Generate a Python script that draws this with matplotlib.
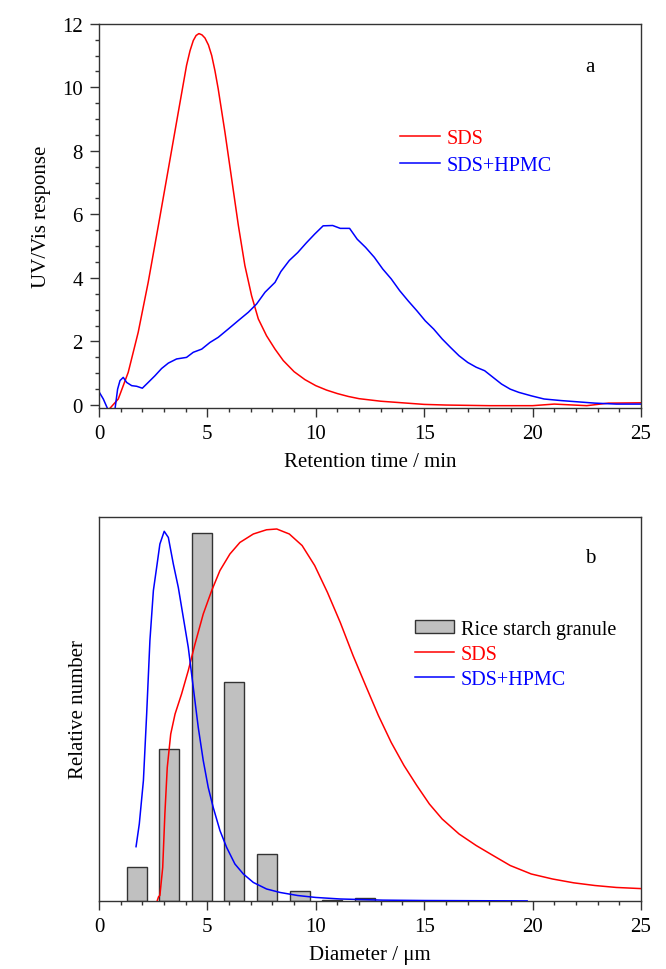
import numpy as np
import matplotlib
matplotlib.use("Agg")
import matplotlib.pyplot as plt

plt.rcParams['font.family'] = ['Liberation Serif', 'DejaVu Serif']

# panel a: SEC traces
t_sds = [0.51, 0.89, 1.35, 1.81, 2.27, 2.74, 3.20, 3.66, 4.04, 4.20, 4.35, 4.48, 4.61,
         4.75, 4.89, 5.05, 5.20, 5.35, 5.50, 5.81, 6.12, 6.43, 6.73, 7.04, 7.35, 7.73,
         8.12, 8.5, 9.0, 9.5, 10.0, 10.5, 11.0, 11.5, 12.0, 13.0, 14.0, 15.0, 16.0,
         18.0, 20.0, 21.0, 22.5, 23.5, 25.0]
uv_sds = [-0.10, 0.19, 1.03, 2.29, 3.86, 5.65, 7.43, 9.22, 10.69, 11.15, 11.47, 11.63,
          11.69, 11.65, 11.55, 11.33, 11.0, 10.52, 9.95, 8.59, 7.12, 5.65, 4.39, 3.44,
          2.71, 2.18, 1.76, 1.40, 1.05, 0.80, 0.61, 0.47, 0.36, 0.27, 0.20, 0.12, 0.07,
          0.02, 0.0, -0.02, -0.02, 0.03, -0.02, 0.06, 0.07]

t_hpmc = [0.0, 0.2, 0.40, 0.74, 0.86, 0.97, 1.12, 1.28, 1.51, 1.74, 2.0, 2.27, 2.58,
          2.89, 3.2, 3.58, 4.04, 4.35, 4.74, 5.12, 5.50, 5.96, 6.43, 6.89, 7.27, 7.66,
          8.12, 8.39, 8.78, 9.17, 9.56, 9.95, 10.34, 10.78, 11.13, 11.56, 11.91, 12.3,
          12.7, 13.09, 13.48, 13.87, 14.26, 14.66, 15.05, 15.44, 15.83, 16.22, 16.61,
          17.01, 17.4, 17.79, 18.18, 18.57, 18.97, 19.36, 19.94, 20.53, 21.32, 22.1,
          22.88, 23.86, 25.0]
uv_hpmc = [0.42, 0.19, -0.12, -0.12, 0.50, 0.77, 0.87, 0.71, 0.61, 0.59, 0.53, 0.71,
           0.92, 1.15, 1.32, 1.45, 1.50, 1.66, 1.76, 1.97, 2.13, 2.39, 2.66, 2.92, 3.18,
           3.55, 3.86, 4.20, 4.55, 4.80, 5.10, 5.38, 5.64, 5.65, 5.56, 5.56, 5.22, 4.96,
           4.65, 4.28, 3.97, 3.60, 3.28, 2.97, 2.65, 2.39, 2.08, 1.81, 1.55, 1.34, 1.19,
           1.08, 0.87, 0.66, 0.50, 0.40, 0.29, 0.19, 0.14, 0.10, 0.06, 0.03, 0.03]

# panel b: size distributions
bin_centers = [1.74, 3.24, 4.74, 6.24, 7.74, 9.26, 10.76, 12.27]
granule = [0.088, 0.396, 0.958, 0.571, 0.124, 0.028, 0.004, 0.008]

d_sds = [2.69, 2.75, 2.81, 2.94, 3.04, 3.15, 3.31, 3.51, 3.81, 4.12, 4.43, 4.81, 5.20,
         5.58, 6.04, 6.50, 7.12, 7.73, 8.2, 8.78, 9.37, 9.95, 10.54, 11.13, 11.72,
         12.3, 12.89, 13.48, 14.07, 14.66, 15.24, 15.83, 16.61, 17.4, 18.18, 18.97,
         19.94, 20.92, 21.9, 22.88, 23.86, 25.0]
n_sds = [0.002, 0.012, 0.015, 0.088, 0.227, 0.348, 0.435, 0.487, 0.539, 0.60, 0.669,
         0.747, 0.808, 0.86, 0.903, 0.933, 0.955, 0.966, 0.968, 0.955, 0.925, 0.873,
         0.803, 0.725, 0.639, 0.561, 0.483, 0.413, 0.353, 0.301, 0.253, 0.214, 0.175,
         0.145, 0.119, 0.093, 0.071, 0.058, 0.048, 0.041, 0.036, 0.033]

d_hpmc = [1.71, 1.86, 2.05, 2.20, 2.35, 2.51, 2.66, 2.81, 3.01, 3.20, 3.43, 3.66, 3.89,
          4.12, 4.35, 4.58, 4.81, 5.04, 5.27, 5.58, 5.89, 6.27, 6.66, 7.12, 7.73, 8.35,
          9.17, 10.0, 11.13, 13.09, 15.05, 19.75]
n_hpmc = [0.142, 0.201, 0.314, 0.487, 0.678, 0.808, 0.868, 0.929, 0.962, 0.946, 0.877,
          0.816, 0.738, 0.66, 0.556, 0.452, 0.366, 0.296, 0.244, 0.184, 0.140, 0.097,
          0.071, 0.049, 0.032, 0.023, 0.015, 0.010, 0.006, 0.003, 0.002, 0.001]

fs = 15
spine_c = '#333333'

fig = plt.figure(figsize=(6.66, 9.7), dpi=100)
ax1 = fig.add_axes([0.1486, 0.578, 0.8138, 0.3965])
ax2 = fig.add_axes([0.1486, 0.0698, 0.8138, 0.3965])

for ax in (ax1, ax2):
    for s in ax.spines.values():
        s.set_color(spine_c)
        s.set_linewidth(1.0)
    ax.set_xlim(0, 25)
    ax.set_xticks([0, 5, 10, 15, 20, 25])
    ax.set_xticks(np.arange(0, 26, 1), minor=True)
    ax.tick_params(axis='both', which='major', direction='out', length=6.5, width=1.0,
                   colors=spine_c, labelcolor='black', labelsize=fs, pad=5)
    ax.tick_params(axis='both', which='minor', direction='out', length=3, width=1.0,
                   colors=spine_c)

# top panel
ax1.plot(t_sds, uv_sds, color='#ff0000', lw=1.1, label='SDS')
ax1.plot(t_hpmc, uv_hpmc, color='#0000ff', lw=1.1, label='SDS+HPMC')
ax1.set_ylim(-0.104, 12)
ax1.set_yticks(np.arange(0, 13, 2))
ax1.set_yticks(np.arange(0, 12.1, 0.5), minor=True)
ax1.set_xlabel('Retention time / min', fontsize=fs, labelpad=6)
ax1.set_ylabel('UV/Vis response', fontsize=fs, labelpad=8)
ax1.text(22.65, 10.64, 'a', fontsize=fs, ha='center', va='center')
leg1 = ax1.legend(loc='upper left', bbox_to_anchor=(0.555, 0.727), frameon=False,
                  fontsize=14.5, handlelength=2.0, handletextpad=0.32,
                  borderpad=0, borderaxespad=0, labelspacing=0.38)
for txt, c in zip(leg1.get_texts(), ['#ff0000', '#0000ff']):
    txt.set_color(c)

# bottom panel
bars = ax2.bar(bin_centers, granule, width=0.92, color='#c0c0c0', edgecolor='#333333',
               linewidth=1.0, zorder=2)
l_sds, = ax2.plot(d_sds, n_sds, color='#ff0000', lw=1.1, zorder=3)
l_hpmc, = ax2.plot(d_hpmc, n_hpmc, color='#0000ff', lw=1.1, zorder=3)
ax2.set_ylim(0, 1)
ax2.set_yticks([])
ax2.set_xlabel('Diameter / μm', fontsize=fs, labelpad=6)
ax2.set_ylabel('Relative number', fontsize=fs, labelpad=8)
ax2.text(22.65, 0.893, 'b', fontsize=fs, ha='center', va='center')
leg2 = ax2.legend([bars, l_sds, l_hpmc], ['Rice starch granule', 'SDS', 'SDS+HPMC'],
                  loc='upper left', bbox_to_anchor=(0.583, 0.732), frameon=False,
                  fontsize=14.5, handlelength=1.95, handleheight=0.6, handletextpad=0.32,
                  borderpad=0, borderaxespad=0, labelspacing=0.3)
for txt, c in zip(leg2.get_texts(), ['black', '#ff0000', '#0000ff']):
    txt.set_color(c)

fig.savefig('out.png', dpi=100)
